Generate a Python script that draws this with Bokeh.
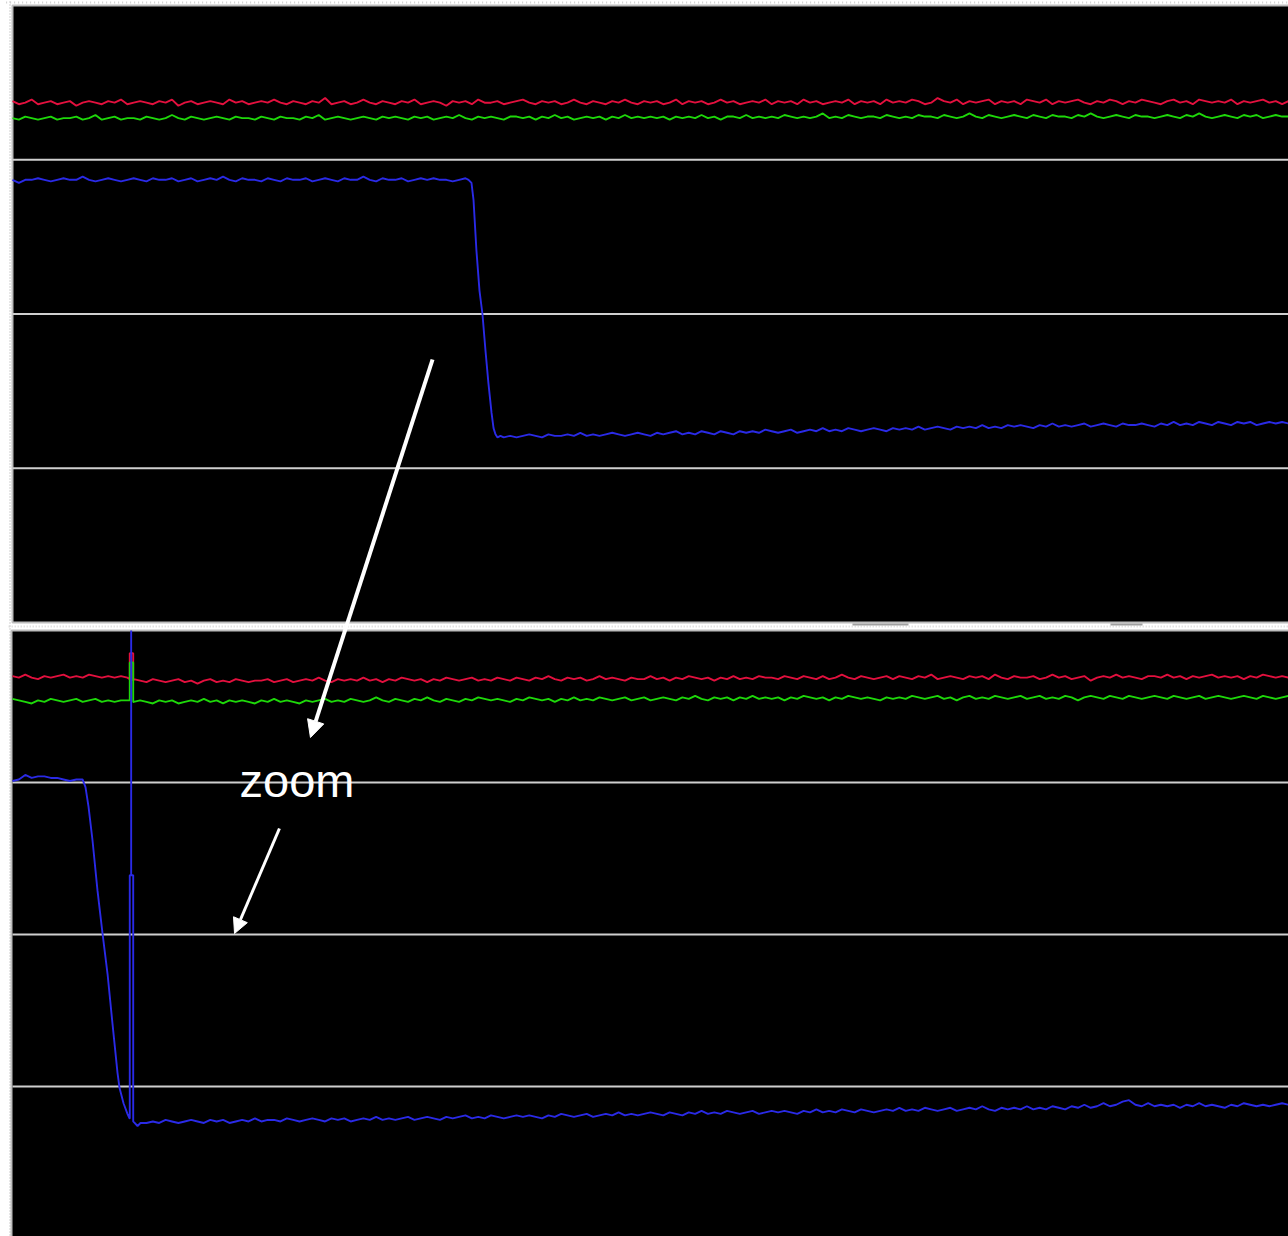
from bokeh.plotting import figure
from bokeh.models import Range1d, Arrow, NormalHead, Label
from bokeh.embed import file_html
from bokeh.resources import INLINE

# Sample spacing of the traces (time units; screen spans 0..100)
STEP = 0.5

# ---------------- TOP PANEL (values in hundredths of a division, 0 = panel bottom) ----------------
red_top = [
    338,336,337,339,336,337,338,336,337,338,335,337,338,337,336,338,337,339,336,337,
    338,337,336,338,337,339,335,337,338,336,337,338,337,336,339,337,338,336,337,338,
    337,339,337,336,338,337,336,338,337,340,336,337,338,336,337,339,337,336,338,337,
    336,338,337,339,336,337,338,337,335,338,337,338,336,339,337,337,338,336,337,338,
    339,337,336,338,337,338,336,337,339,337,336,338,337,336,338,337,339,337,336,338,
    337,338,336,337,339,336,338,337,338,336,337,339,337,338,336,337,338,337,339,336,
    338,337,338,336,339,337,338,336,337,338,337,339,336,338,337,338,336,339,337,338,
    337,339,338,336,337,340,338,337,339,336,338,337,338,339,336,338,337,338,336,339,
    338,337,339,336,338,337,338,339,337,336,338,337,339,338,336,338,337,339,338,337,
    336,338,339,337,338,336,339,338,337,338,337,339,336,338,337,338,339,337,338,336,
    338,
]
green_top = [
    327,326,328,327,326,327,328,326,327,327,328,326,327,329,326,327,328,326,327,327,
    326,328,327,326,327,329,327,326,328,327,326,327,328,327,326,328,327,327,326,328,
    327,326,328,327,327,326,328,327,329,326,327,328,327,326,327,328,327,326,328,327,
    328,327,326,328,327,328,326,327,328,327,329,327,326,328,327,328,327,326,328,328,
    327,328,326,328,327,329,327,328,326,327,328,327,328,326,328,327,329,327,328,327,
    328,327,328,326,328,327,328,327,329,327,328,326,328,328,327,329,327,328,327,328,
    327,329,328,327,328,327,328,330,327,328,327,329,328,327,328,328,327,329,328,327,
    328,327,329,328,328,327,329,328,327,328,330,328,327,329,328,327,328,329,328,327,
    329,328,327,329,328,328,327,329,328,330,328,327,328,329,328,327,329,328,328,327,
    328,329,328,327,329,328,330,328,327,328,329,328,327,329,328,329,327,328,329,328,
    328,
]
blue_top_pre = [
    287,285,287,287,288,287,286,287,288,287,287,289,287,286,287,288,287,286,287,288,
    287,286,288,287,287,288,286,287,288,286,287,288,287,289,287,286,288,287,287,286,
    288,287,286,288,287,287,288,286,287,288,287,286,288,287,287,289,287,286,288,287,
    287,288,286,287,288,287,288,287,287,286,287,288,
]
blue_top_edge_t = [35.74, 35.97, 36.13, 36.36, 36.60, 36.83, 37.07, 37.30, 37.54, 37.70, 37.85, 38.01, 38.24]
blue_top_edge_v = [287, 285, 274, 241, 215, 200, 176, 155, 136, 126, 122, 120, 121]
BLUE_TOP_POST_T0 = 38.5
blue_top_post = [
    120,121,120,121,122,121,120,122,121,121,122,121,123,121,122,121,122,123,122,121,
    122,123,122,121,123,122,123,124,122,123,122,124,123,122,124,123,122,124,123,124,
    123,125,124,123,124,125,123,124,125,124,126,124,125,124,126,125,124,125,126,125,
    124,126,125,126,125,127,125,126,127,126,125,127,126,127,126,128,126,127,126,128,
    127,128,127,126,128,127,129,127,128,127,128,129,127,128,129,128,127,129,128,128,
    129,128,127,129,128,130,128,129,128,130,129,128,130,129,128,130,129,130,128,129,
    130,129,130,129,
]

# ---------------- BOTTOM PANEL (zoomed capture) ----------------
red_bot_pre = [370,369,371,369,368,370,369,370,371,369,370,369,371,370,369,370,369,370,369]
red_bot_spike_t = [9.19, 9.19, 9.46, 9.46]
red_bot_spike_v = [368, 385, 385, 367]
BOT_POST_T0 = 9.5
red_bot_post = [
    368,367,366,368,367,366,367,368,366,367,365,367,368,366,367,366,368,367,366,367,
    367,368,366,367,368,366,367,368,367,369,367,366,368,367,368,367,369,367,368,366,
    368,367,369,368,367,368,366,368,367,369,368,367,368,369,367,368,367,369,368,367,
    369,368,367,369,368,370,368,367,369,368,369,367,368,370,368,369,368,367,369,368,
    368,370,368,369,367,369,368,370,369,368,369,367,369,368,370,368,369,368,370,369,
    369,368,370,369,368,370,369,368,370,368,369,371,369,368,370,369,368,369,370,368,
    370,369,368,370,369,371,368,369,370,369,368,370,369,370,368,371,369,368,370,369,
    369,370,368,369,371,369,370,368,369,370,367,369,370,369,371,369,370,369,368,370,
    370,369,371,369,370,368,370,369,370,371,369,370,369,370,368,370,369,371,370,369,
    370,369,
]
green_bot_pre = [355,354,353,352,354,353,355,354,353,354,355,353,354,355,353,354,353,354,354]
green_bot_spike_t = [9.19, 9.19, 9.46, 9.46]
green_bot_spike_v = [354, 379, 379, 353]
green_bot_post = [
    353,354,353,352,354,353,354,352,353,354,353,355,353,354,352,354,353,354,353,352,
    354,353,355,353,354,353,352,354,353,354,355,353,354,353,355,354,353,354,356,354,
    353,355,354,353,355,354,356,354,353,355,354,353,355,354,356,355,354,355,354,353,
    355,354,356,355,354,355,353,355,354,356,354,355,354,356,355,354,355,356,354,355,
    356,354,355,356,355,354,356,355,357,355,354,356,355,356,354,356,355,357,355,356,
    355,356,354,356,355,357,356,355,356,354,356,355,357,356,355,356,355,354,356,355,
    356,355,357,356,355,356,357,355,356,354,356,357,355,356,355,357,356,355,356,357,
    355,356,357,355,356,355,357,356,354,356,357,356,355,357,356,355,357,356,355,356,
    357,356,355,357,356,355,356,357,355,356,357,356,355,356,357,356,355,357,356,355,
    356,357,
]
blue_bot_pre = [301, 302, 305, 303, 304, 304, 303, 303, 302, 301, 302]
blue_bot_edge_t = [5.49, 5.72, 5.96, 6.27, 6.66, 7.05, 7.45, 7.84, 8.23, 8.39, 8.70, 9.01, 9.17,
                   9.19, 9.19, 9.30, 9.30, 9.30, 9.46, 9.46, 9.80, 10.03]
blue_bot_edge_v = [302, 297, 284, 262, 229, 201, 174, 141, 109, 99, 89, 82, 79,
                   79, 239, 239, 400, 239, 239, 77, 74, 76]
BLUE_BOT_POST_T0 = 10.5
blue_bot_post = [
    76,77,76,78,77,76,77,78,77,76,78,77,78,76,77,78,77,79,77,78,
    78,77,79,78,77,78,79,78,77,79,78,79,77,78,79,78,80,78,79,78,
    79,80,78,79,80,79,78,80,79,80,81,79,80,79,81,80,79,80,81,80,
    81,80,79,81,80,82,81,80,81,82,80,81,82,81,83,81,82,81,82,83,
    82,81,83,82,81,83,82,84,82,83,82,84,83,82,83,84,82,83,84,83,
    84,83,82,84,83,85,83,84,83,85,84,83,85,84,83,84,85,84,86,84,
    85,84,86,85,84,85,86,84,85,86,85,87,85,84,86,85,86,85,87,85,
    86,85,87,86,85,87,86,88,86,87,89,87,88,90,91,88,87,89,87,88,
    87,88,86,88,87,89,87,88,87,86,88,87,89,88,87,88,87,88,89,88,
]

GRID_DIVS = [100, 200, 300]

# ---------------- layout (plot units: x time 0..100, y = px above page bottom) ----------------
TOP_BASE, TOP_DIV = 616.0, 154.25
BOT_BASE, BOT_DIV = 0.0, 152.0
RED, GREEN, BLUE = "#e3103e", "#1ed80a", "#2a2ae6"
GRID_COLOR = "#cfcfcf"
PX = 12.76  # screen px per time unit


def times(t0, vals):
    return [t0 + STEP * i for i in range(len(vals))]


def ty(vals):
    return [TOP_BASE + v / 100.0 * TOP_DIV for v in vals]


def by(vals):
    return [BOT_BASE + v / 100.0 * BOT_DIV for v in vals]


p = figure(width=1288, height=1236, x_range=Range1d(-12 / PX, 100), y_range=Range1d(2, 1238),
           output_backend="svg", toolbar_location=None, min_border=0,
           x_axis_location=None, y_axis_location=None)
p.grid.visible = False
p.outline_line_color = None
p.background_fill_color = "white"
p.border_fill_color = "white"

# ruler-like dotted frame strips
p.segment(x0=[-2.5 / PX], x1=[-2.5 / PX], y0=[0], y1=[1238], line_color="#cfcfcf", line_width=2, line_dash="1 2")
p.segment(x0=[-0.5], x1=[100], y0=[1236], y1=[1236], line_color="#cfcfcf", line_width=2, line_dash="1 3")

# panels
p.quad(left=[0, -1 / PX], right=[100.5, 100.5], bottom=[TOP_BASE, -10], top=[1233, 608],
       fill_color="black", line_color="#bdbdbd", line_width=2)
# ruler-like strip between panels
p.segment(x0=[-0.3], x1=[100], y0=[612], y1=[612], line_color="#d4d4d4", line_width=2, line_dash="1 2")
p.segment(x0=[65.83, 86.05], x1=[70.22, 88.56], y0=[614, 614], y1=[614, 614], line_color="#a0a0a0", line_width=2)

# grid lines
p.segment(x0=[0] * 3, x1=[100] * 3, y0=ty(GRID_DIVS), y1=ty(GRID_DIVS), line_color=GRID_COLOR, line_width=2)
p.segment(x0=[0] * 3, x1=[100] * 3, y0=by(GRID_DIVS), y1=by(GRID_DIVS), line_color=GRID_COLOR, line_width=2)

LW = 1.9
# top traces
p.line(times(0, red_top), ty(red_top), line_color=RED, line_width=LW)
p.line(times(0, green_top), ty(green_top), line_color=GREEN, line_width=LW)
bt_t = times(0, blue_top_pre) + blue_top_edge_t + times(BLUE_TOP_POST_T0, blue_top_post)
bt_v = blue_top_pre + blue_top_edge_v + blue_top_post
p.line(bt_t, ty(bt_v), line_color=BLUE, line_width=LW)

# bottom traces
rb_t = times(0, red_bot_pre) + red_bot_spike_t + times(BOT_POST_T0, red_bot_post)
rb_v = red_bot_pre + red_bot_spike_v + red_bot_post
p.line(rb_t, by(rb_v), line_color=RED, line_width=LW)
gb_t = times(0, green_bot_pre) + green_bot_spike_t + times(BOT_POST_T0, green_bot_post)
gb_v = green_bot_pre + green_bot_spike_v + green_bot_post
p.line(gb_t, by(gb_v), line_color=GREEN, line_width=LW)
bb_t = times(0, blue_bot_pre) + blue_bot_edge_t + times(BLUE_BOT_POST_T0, blue_bot_post)
bb_v = blue_bot_pre + blue_bot_edge_v + blue_bot_post
p.line(bb_t, by(bb_v), line_color=BLUE, line_width=LW)

# annotations
p.add_layout(Arrow(end=NormalHead(size=17, fill_color="white", line_color="white", line_width=1),
                   x_start=32.92, y_start=879, x_end=23.35, y_end=501,
                   line_color="white", line_width=4))
p.add_layout(Arrow(end=NormalHead(size=15, fill_color="white", line_color="white", line_width=1),
                   x_start=20.92, y_start=410, x_end=17.40, y_end=305,
                   line_color="white", line_width=3))
p.add_layout(Label(x=17.79, y=458, text="zoom", text_color="white", text_font="Liberation Sans",
                   text_font_size="47px", text_baseline="alphabetic", text_align="left"))

open("out.html", "w").write(file_html(p, INLINE))
